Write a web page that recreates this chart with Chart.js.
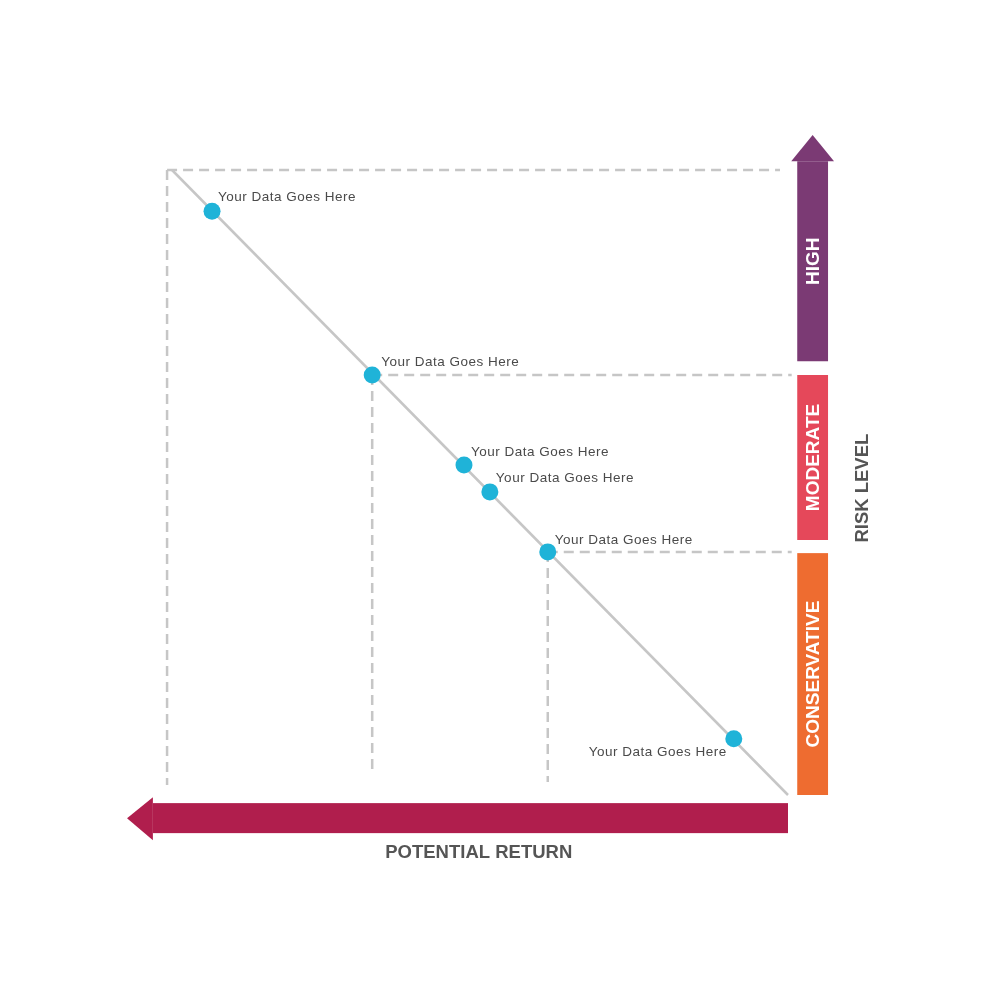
<!DOCTYPE html>
<html>
<head>
<meta charset="utf-8">
<script src="https://cdn.jsdelivr.net/npm/chart.js@4.4.0/dist/chart.umd.min.js"></script>
<style>
  body { margin:0; background:#fff; }
  canvas { display:block; }
</style>
</head>
<body>
<canvas id="grafico" width="1000" height="1000"></canvas>
<script>
// pontos (retorno x, risco y) numa escala 0-100
var pontosX = [6.5, 32.5, 47.4, 51.6, 61.0, 91.2];
var pontosY = [93.4, 67.2, 52.8, 48.5, 38.9, 9.0];
var rotulos = ["Your Data Goes Here","Your Data Goes Here","Your Data Goes Here","Your Data Goes Here","Your Data Goes Here","Your Data Goes Here"];

// faixas de risco
var faixas = ["CONSERVATIVE","MODERATE","HIGH"];
var faixaDe = [0, 40.8, 69.4];
var faixaAte = [38.7, 67.2, 101.4];
var faixaCor = ['#ee6c30','#e5485a','#7b3a74'];

var cinza = '#c6c6c6';

function linhaTracejada(x1,y1,x2,y2){
  return {
    type:'line',
    data:[{x:x1,y:y1},{x:x2,y:y2}],
    borderColor:cinza,
    borderWidth:2.5,
    borderDash:[10,6],
    pointRadius:0,
    clip:false,
    order:3
  };
}

// desenha as setas e textos fixos
var setas = {
  id:'setas',
  beforeDatasetsDraw(chart){
    var c = chart.ctx, sx = chart.scales.x, sy = chart.scales.y;
    var x1 = sx.getPixelForValue(101.5), x2 = sx.getPixelForValue(106.5);
    c.save();
    faixas.forEach(function(nome,i){
      var yTop = sy.getPixelForValue(faixaAte[i]);
      var yBot = sy.getPixelForValue(faixaDe[i]);
      c.fillStyle = faixaCor[i];
      c.fillRect(x1, yTop, x2-x1, yBot-yTop);
      if(i==faixas.length-1){ // ponta da seta
        var tip = sy.getPixelForValue(105.6);
        c.beginPath();
        c.moveTo(x1-6, yTop);
        c.lineTo((x1+x2)/2, tip);
        c.lineTo(x2+6, yTop);
        c.closePath();
        c.fill();
      }
      c.save();
      c.translate((x1+x2)/2, (yTop+yBot)/2);
      c.rotate(-Math.PI/2);
      c.fillStyle='#fff';
      c.font='bold 19px "Liberation Sans", Arial, sans-serif';
      c.textAlign='center';
      c.textBaseline='middle';
      c.fillText(nome,0,1);
      c.restore();
    });
    // seta de baixo
    var yA = sy.getPixelForValue(-1.3), yB = sy.getPixelForValue(-6.1);
    var xEnd = sx.getPixelForValue(100), xBase = sx.getPixelForValue(-3.1), xTip = sx.getPixelForValue(-7.3);
    c.fillStyle='#b01e4d';
    c.fillRect(xBase, yA, xEnd-xBase, yB-yA);
    c.beginPath();
    c.moveTo(xBase, yA-6);
    c.lineTo(xTip, (yA+yB)/2);
    c.lineTo(xBase, yB+7);
    c.closePath();
    c.fill();
    // titulos
    c.fillStyle='#555';
    c.font='bold 18.5px "Liberation Sans", Arial, sans-serif';
    c.textAlign='center';
    c.textBaseline='middle';
    c.fillText('POTENTIAL RETURN', sx.getPixelForValue(49.8), sy.getPixelForValue(-9.3));
    c.save();
    c.translate(sx.getPixelForValue(112.1), sy.getPixelForValue(49.1));
    c.rotate(-Math.PI/2);
    c.fillText('RISK LEVEL',0,0);
    c.restore();
    c.restore();
  },
  afterDatasetsDraw(chart){
    var c = chart.ctx;
    var meta = chart.getDatasetMeta(0);
    var dx = [6,9,7,6,7,-7], dy = [-14,-13,-13,-14,-12,14];
    c.save();
    c.fillStyle='#4a4a4a';
    c.font='13.5px "Liberation Sans", Arial, sans-serif';
    c.letterSpacing='0.5px';
    c.textBaseline='middle';
    meta.data.forEach(function(p,i){
      c.textAlign = dx[i]<0 ? 'right' : 'left';
      c.fillText(rotulos[i], p.x+dx[i], p.y+dy[i]);
    });
    c.restore();
  }
};

var ctx=document.getElementById("grafico");
var chartGraph = new Chart(ctx,{
  type:'scatter',
  data:{
    datasets:[
      {
        label:'pontos',
        data:pontosX.map(function(v,i){return {x:v,y:pontosY[i]};}),
        backgroundColor:'#1fb3d8',
        borderWidth:0,
        pointRadius:8.5,
        clip:false,
        order:1
      },
      {
        type:'line',
        data:[{x:0,y:100},{x:100,y:0}],
        borderColor:cinza,
        borderWidth:2.5,
        pointRadius:0,
        clip:false,
        order:2
      },
      linhaTracejada(-0.8,100,98.7,100),
      linhaTracejada(-0.8,100,-0.8,1.6),
      linhaTracejada(pontosX[1],pontosY[1],100.6,pontosY[1]),
      linhaTracejada(pontosX[1],pontosY[1],pontosX[1],3.2),
      linhaTracejada(pontosX[4],pontosY[4],100.6,pontosY[4]),
      linhaTracejada(pontosX[4],pontosY[4],pontosX[4],2.1)
    ]
  },
  options:{
    responsive:false,
    animation:false,
    layout:{padding:{left:172,right:212,top:170,bottom:205}},
    plugins:{legend:{display:false},tooltip:{enabled:false}},
    scales:{
      x:{type:'linear',min:0,max:100,display:false},
      y:{type:'linear',min:0,max:100,display:false}
    }
  },
  plugins:[setas]
});
</script>
</body>
</html>
